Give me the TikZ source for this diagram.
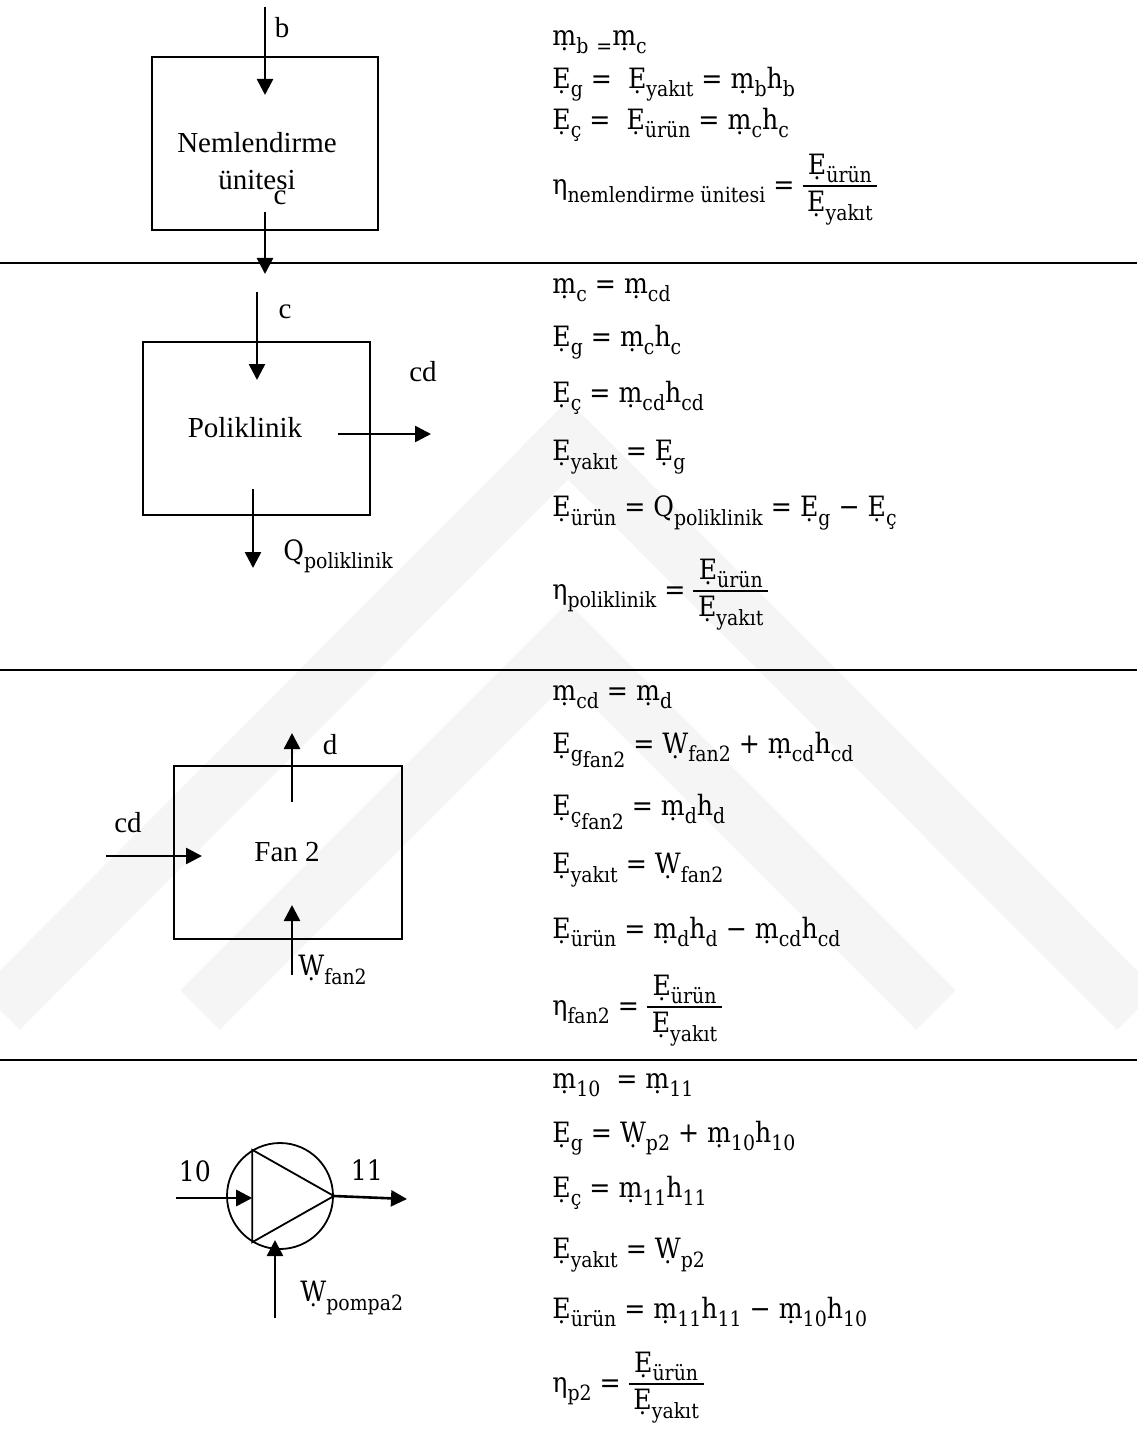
\documentclass[tikz,border=0pt]{standalone}
\usepackage{fontspec}
\setmainfont{Liberation Serif}
\newfontfamily\eqfont{DejaVu Serif}[FakeStretch=0.9]
\usetikzlibrary{arrows.meta}
\newcommand\ix[1]{\raisebox{-0.3em}{\fontsize{10.5}{10.5}\selectfont #1}}
\newcommand\fr[2]{$\vcenter{\hbox{\setlength\arrayrulewidth{0.8pt}\renewcommand\arraystretch{1.05}\begin{tabular}{@{\,}c@{\,}}#1\\\hline #2\end{tabular}}}$}
\tikzset{
  unitbox/.style={draw,line width=0.9pt,inner sep=0pt},
  flow/.style={-{Triangle[length=8pt,width=8pt]},line width=1.3pt},
  lab/.style={inner sep=0pt,font=\fontsize{14.5}{18.5}\selectfont},
  eq/.style={anchor=west,inner sep=0pt,font=\eqfont\fontsize{14}{17}\selectfont},
  sepline/.style={line width=1.2pt},
  wmark/.style={line width=28pt,black!4},
}

\begin{document}
\begin{tikzpicture}[x=0.5pt,y=-0.5pt]
 \useasboundingbox (0,0) rectangle (1137,1439);
 % watermark
 \draw[wmark] (0,1010) -- (568,440) -- (1137,1010);
 \draw[wmark] (200,1010) -- (568,642) -- (936,1010);
 % section lines
 \foreach \y [count=\i] in {263,670,1060}{
   \coordinate (sl\i) at (0,\y);
   \coordinate (sr\i) at (1137,\y);
   \draw[sepline] (sl\i) -- (sr\i);
 }

 % nemlendirme unitesi
 \node[unitbox,minimum width=113pt,minimum height=86.5pt] (nem) at (265,143.5) {};
 \node[lab,align=center] (nemt) at (257,161) {Nemlendirme\\ünitesi};
 \coordinate (b0) at (265,7);
 \coordinate (b1) at (265,95);
 \draw[flow] (b0) -- (b1);
 \node[lab] (lb) at (282,28) {b};
 \node[lab] (lc1) at (280,198) {c};
 \coordinate (c0) at (265,212);
 \coordinate (c1) at (265,274);
 \draw[flow] (c0) -- (c1);

 \node[eq] (e11) at (552,42) {\d{m}\ix{b} \ix{=}\d{m}\ix{c}};
 \node[eq] (e12) at (552,84) {\d{E}\ix{g} = \ \d{E}\ix{yakıt} = \d{m}\ix{b}h\ix{b}};
 \node[eq] (e13) at (552,125) {\d{E}\ix{ç} = \ \d{E}\ix{ürün} = \d{m}\ix{c}h\ix{c}};
 \node[eq] (e14) at (552,187) {η\ix{nemlendirme ünitesi} = \fr{\d{E}\ix{ürün}}{\d{E}\ix{yakıt}}};

 % poliklinik
 \node[unitbox,minimum width=113.5pt,minimum height=86.5pt] (pol) at (256.5,428.5) {};
 \node[lab] (polt) at (245,428) {Poliklinik};
 \coordinate (pc0) at (257,292);
 \coordinate (pc1) at (257,380);
 \draw[flow] (pc0) -- (pc1);
 \node[lab] (lc2) at (285,312) {c};
 \coordinate (cd0) at (338,434);
 \coordinate (cd1) at (431,434);
 \draw[flow] (cd0) -- (cd1);
 \node[lab] (lcd1) at (423,372) {cd};
 \coordinate (q0) at (253,489);
 \coordinate (q1) at (253,568);
 \draw[flow] (q0) -- (q1);
 \node[eq] (lq) at (283,556) {Q\ix{poliklinik}};

 \node[eq] (e21) at (552,290) {\d{m}\ix{c} = \d{m}\ix{cd}};
 \node[eq] (e22) at (552,342) {\d{E}\ix{g} = \d{m}\ix{c}h\ix{c}};
 \node[eq] (e23) at (552,398) {\d{E}\ix{ç} = \d{m}\ix{cd}h\ix{cd}};
 \node[eq] (e24) at (552,457) {\d{E}\ix{yakıt} = \d{E}\ix{g}};
 \node[eq] (e25) at (552,513) {\d{E}\ix{ürün} = Q\ix{poliklinik} = \d{E}\ix{g} − \d{E}\ix{ç}};
 \node[eq] (e26) at (552,592) {η\ix{poliklinik} = \fr{\d{E}\ix{ürün}}{\d{E}\ix{yakıt}}};

 % fan 2
 \node[unitbox,minimum width=114pt,minimum height=86.5pt] (fan) at (288,852.5) {};
 \node[lab] (fant) at (287,852) {Fan 2};
 \coordinate (d0) at (292,802);
 \coordinate (d1) at (292,733);
 \draw[flow] (d0) -- (d1);
 \node[lab] (ld) at (330,745) {d};
 \coordinate (f0) at (106,856);
 \coordinate (f1) at (202,856);
 \draw[flow] (f0) -- (f1);
 \node[lab] (lcd2) at (128,823) {cd};
 \coordinate (w0) at (292,975);
 \coordinate (w1) at (292,905);
 \draw[flow] (w0) -- (w1);
 \node[eq] (lw) at (298,970) {\d{W}\ix{fan2}};

 \node[eq] (e31) at (552,697) {\d{m}\ix{cd} = \d{m}\ix{d}};
 \node[eq] (e32) at (552,750) {\d{E}\ix{g\ix{fan2}} = \d{W}\ix{fan2} + \d{m}\ix{cd}h\ix{cd}};
 \node[eq] (e33) at (552,812) {\d{E}\ix{ç\ix{fan2}} = \d{m}\ix{d}h\ix{d}};
 \node[eq] (e34) at (552,870) {\d{E}\ix{yakıt} = \d{W}\ix{fan2}};
 \node[eq] (e35) at (552,932) {\d{E}\ix{ürün} = \d{m}\ix{d}h\ix{d} − \d{m}\ix{cd}h\ix{cd}};
 \node[eq] (e36) at (552,1008) {η\ix{fan2} = \fr{\d{E}\ix{ürün}}{\d{E}\ix{yakıt}}};

 % pompa 2
 \node[draw,circle,line width=0.9pt,minimum size=53pt,inner sep=0pt] (pump) at (280,1196) {};
 \draw[line width=0.9pt] (pump.121) -- (pump.239) -- (pump.0) -- cycle;
 \coordinate (p0) at (176,1198);
 \draw[flow] (p0) -- (p0 -| pump.121);
 \coordinate (p1) at (407,1199);
 \draw[flow] (pump.0) -- (p1);
 \node[eq,anchor=center] (l10) at (195,1171) {10};
 \node[eq,anchor=center] (l11) at (367,1170) {11};
 \coordinate (wp0) at (275,1318);
 \coordinate (wp1) at (275,1240);
 \draw[flow] (wp0) -- (wp1);
 \node[eq] (lwp) at (300,1298) {\d{W}\ix{pompa2}};

 \node[eq] (e41) at (552,1085) {\d{m}\ix{10} \ = \d{m}\ix{11}};
 \node[eq] (e42) at (552,1138) {\d{E}\ix{g} = \d{W}\ix{p2} + \d{m}\ix{10}h\ix{10}};
 \node[eq] (e43) at (552,1193) {\d{E}\ix{ç} = \d{m}\ix{11}h\ix{11}};
 \node[eq] (e44) at (552,1255) {\d{E}\ix{yakıt} = \d{W}\ix{p2}};
 \node[eq] (e45) at (552,1312) {\d{E}\ix{ürün} = \d{m}\ix{11}h\ix{11} − \d{m}\ix{10}h\ix{10}};
 \node[eq] (e46) at (552,1385) {η\ix{p2} = \fr{\d{E}\ix{ürün}}{\d{E}\ix{yakıt}}};
\end{tikzpicture}
\end{document}
